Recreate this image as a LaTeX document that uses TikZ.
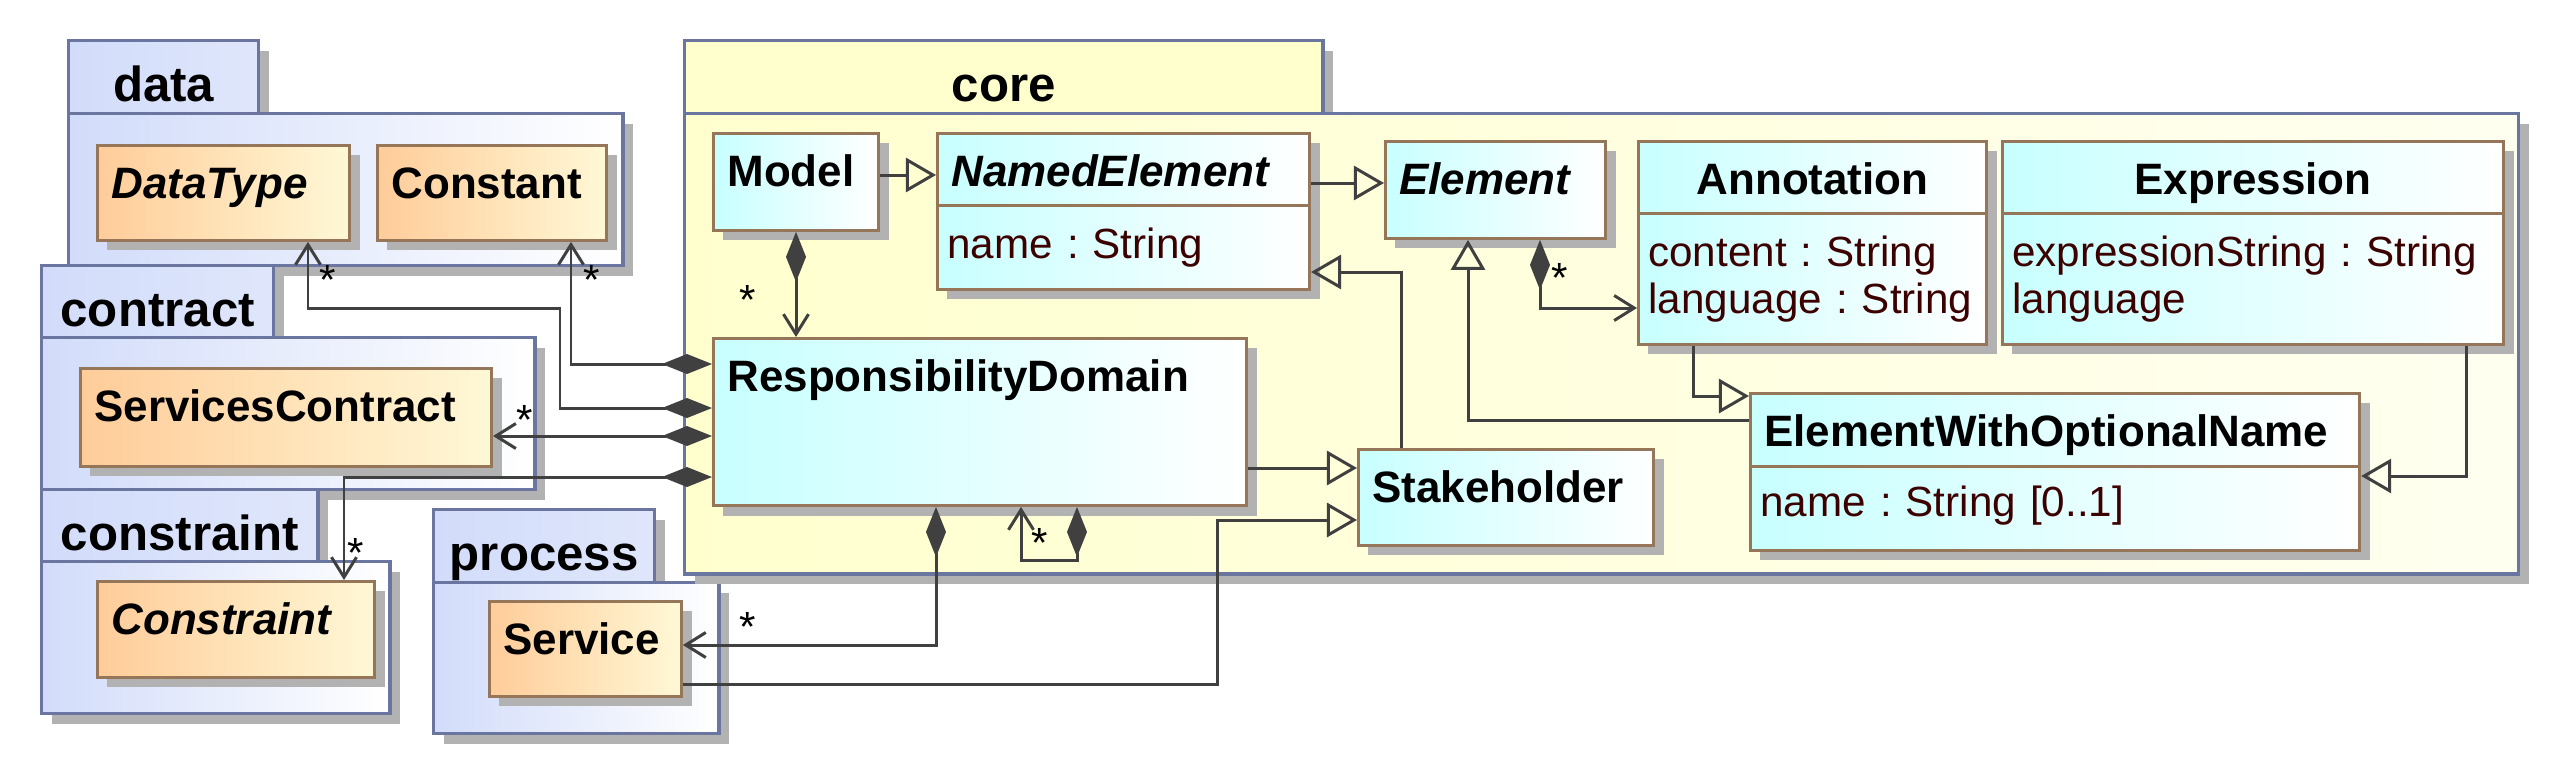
\documentclass[tikz,border=0pt]{standalone}
\usepackage{fontspec}
\setmainfont{Liberation Sans}
\usetikzlibrary{arrows.meta, positioning, shadows}
\frenchspacing

\definecolor{pkgline}{RGB}{107,118,160}
\definecolor{pkgfill}{RGB}{210,220,250}
\definecolor{corefill}{RGB}{255,255,206}
\definecolor{clsline}{RGB}{150,118,88}
\definecolor{cyanfill}{RGB}{200,255,255}
\definecolor{orangefill}{RGB}{255,204,153}
\definecolor{creamfill}{RGB}{255,248,214}
\definecolor{shadowgray}{RGB}{178,178,178}
\definecolor{wiregray}{RGB}{64,64,64}
\definecolor{attrtext}{RGB}{60,0,0}

\begin{document}
\begin{tikzpicture}[
    x=0.01cm, y=-0.01cm,
    shadowed/.style={drop shadow={shadow xshift=0.1cm, shadow yshift=-0.1cm, fill=shadowgray, opacity=1}},
    pkgtab/.style={draw=pkgline, line width=0.95pt, anchor=north west, inner sep=0pt, shadowed, left color=pkgfill, right color=pkgfill!70!white, font=\fontsize{14}{16}\selectfont\bfseries, text height=0.61cm, text depth=0.12cm},
    pkgbody/.style={draw=pkgline, line width=0.95pt, anchor=north west, inner sep=0pt, shadowed, left color=pkgfill, right color=white},
    cls/.style={draw=clsline, line width=0.8pt, anchor=north west, inner xsep=0.14cm, inner ysep=0pt, align=left, text height=0.53cm, font=\fontsize{12.5}{14}\selectfont\bfseries, shadowed},
    corecls/.style={cls, left color=cyanfill, right color=white},
    extcls/.style={cls, left color=orangefill, right color=creamfill},
    abstract/.style={font=\fontsize{12.5}{14}\selectfont\bfseries\itshape},
    attrs/.style={font=\fontsize{12}{13.3}\selectfont, text=attrtext, inner xsep=0.1cm},
    mult/.style={font=\fontsize{12}{12}\selectfont, inner sep=0pt, anchor=base},
    conn/.style={draw=wiregray, line width=0.85pt},
    comp/.style={conn, {Diamond[length=0.5cm, width=0.2cm]}-{Straight Barb[length=0.2cm, width=0.25cm]}},
    gen/.style={conn, -{Triangle[open, length=0.3cm, width=0.34cm]}}
]
\useasboundingbox (0,0) rectangle (2556,772);

\node[pkgtab, minimum width=1.90cm] (datatab) at (67,39) {data};
\node[pkgbody, minimum width=5.54cm, minimum height=1.52cm] (databody) at (67,112) {};
\node[pkgtab, minimum width=2.32cm] (contracttab) at (40,264) {contract};
\node[pkgbody, minimum width=4.93cm, minimum height=1.52cm] (contractbody) at (40,336) {};
\node[pkgtab, minimum width=2.76cm] (constrainttab) at (40,488) {constraint};
\node[pkgbody, minimum width=3.48cm, minimum height=1.52cm] (constraintbody) at (40,560) {};
\node[pkgtab, minimum width=2.21cm] (processtab) at (432,508) {process};
\node[pkgbody, minimum width=2.85cm, minimum height=1.51cm] (processbody) at (432,581) {};
\node[pkgtab, minimum width=6.38cm, left color=corefill, right color=corefill] (coretab) at (683,39) {core};
\node[pkgbody, minimum width=18.33cm, minimum height=4.60cm, left color=corefill, right color=corefill!30!white] (corebody) at (683,112) {};

\node[extcls, abstract, text width=2.24cm, text depth=0.42cm] (datatype) at (96,144) {DataType};
\node[extcls, text width=2.01cm, text depth=0.42cm] (constant) at (376,144) {Constant};
\node[extcls, text width=3.83cm, text depth=0.45cm] (contract) at (79,367) {ServicesContract};
\node[extcls, abstract, text width=2.49cm, text depth=0.43cm] (constraint) at (96,580) {Constraint};
\node[extcls, text width=1.64cm, text depth=0.42cm] (service) at (488,600) {Service};

\node[corecls, text width=1.37cm, text depth=0.44cm] (model) at (712,132) {Model};
\node[corecls, abstract, text width=3.44cm, text depth=0.19cm] (namedhead) at (936,132) {NamedElement};
\node[corecls, attrs, text width=3.52cm, text depth=0.31cm] (namedattr) at (936,204) {name : String};
\node[corecls, abstract, text width=1.92cm, text depth=0.44cm] (element) at (1384,140) {Element};
\node[corecls, align=center, text width=3.20cm, text depth=0.19cm] (annhead) at (1637,140) {Annotation};
\node[corecls, attrs, text width=3.28cm, text depth=0.78cm] (annattr) at (1637,212) {content : String\\language : String};
\node[corecls, align=center, text width=4.73cm, text depth=0.19cm] (exprhead) at (2001,140) {Expression};
\node[corecls, attrs, text width=4.81cm, text depth=0.78cm] (exprattr) at (2001,212) {expressionString : String\\language};
\node[corecls, text width=5.05cm, text depth=1.14cm] (domain) at (712,337) {ResponsibilityDomain};
\node[corecls, text width=2.67cm, text depth=0.43cm] (holder) at (1357,448) {Stakeholder};
\node[corecls, text width=5.81cm, text depth=0.20cm] (ewonhead) at (1749,392) {ElementWithOptionalName};
\node[corecls, attrs, text width=5.89cm, text height=0.50cm, text depth=0.34cm] (ewonattr) at (1749,465) {name : String [0..1]};

\draw[comp] (domain.west |- 0,364) -| (constant.south -| 571,0);
\draw[comp] (domain.west |- 0,408) -| (560,308) -| (datatype.south -| 308,0);
\draw[comp] (domain.west |- 0,436) -- (contract.east |- 0,436);
\draw[comp] (domain.west |- 0,477) -| (constraint.north -| 344,0);
\draw[comp] (model.south -| 796,0) -- (domain.north -| 796,0);
\draw[comp] (domain.south -| 936,0) |- (service.east |- 0,645);
\draw[comp] (domain.south -| 1077,0) -- (1077,560) -| (domain.south -| 1021,0);
\draw[comp] (element.south -| 1540,0) |- (annattr.west |- 0,308);
\draw[gen] (model.east |- 0,175) -- (namedhead.west |- 0,175);
\draw[gen] (namedhead.east |- 0,183) -- (element.west |- 0,183);
\draw[gen] (holder.north -| 1401,0) |- (namedattr.east |- 0,272);
\draw[gen] (domain.east |- 0,468) -- (holder.west |- 0,468);
\draw[gen] (service.east |- 0,684) -| (1217,520) -- (holder.west |- 0,520);
\draw[gen] (ewonhead.west |- 0,420) -| (element.south -| 1468,0);
\draw[gen] (annattr.south -| 1693,0) |- (ewonhead.west |- 0,396);
\draw[gen] (exprattr.south -| 2466,0) |- (ewonattr.east |- 0,476);

\node[mult] (mtype) at (328,294) {*};
\node[mult] (mconst) at (592,294) {*};
\node[mult] (mcontract) at (525,434) {*};
\node[mult] (mconstraint) at (356,567) {*};
\node[mult] (mmodel) at (748,314) {*};
\node[mult] (mservice) at (748,641) {*};
\node[mult] (mself) at (1040,557) {*};
\node[mult] (mann) at (1560,292) {*};
\end{tikzpicture}
\end{document}
